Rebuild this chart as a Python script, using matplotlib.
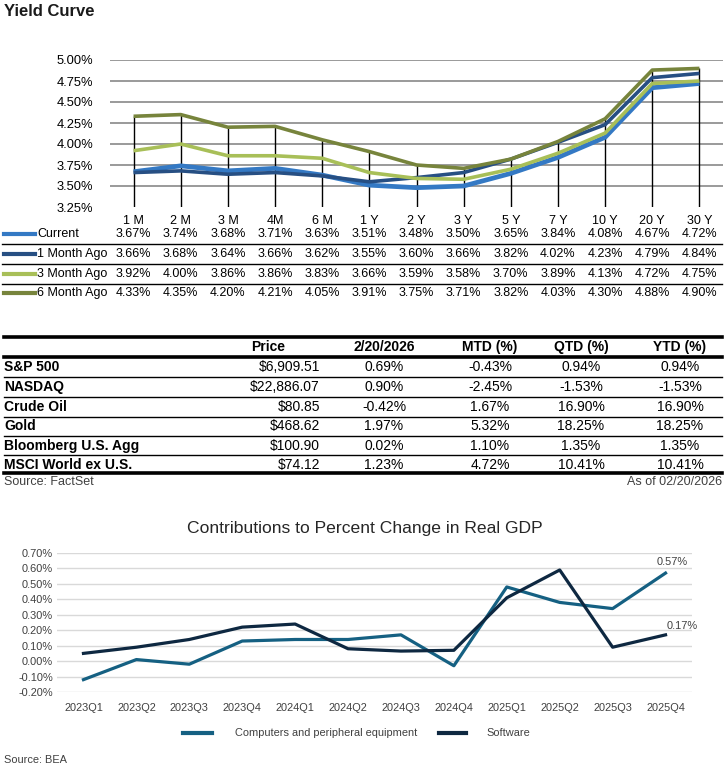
import matplotlib
matplotlib.use("Agg")
import matplotlib.pyplot as plt
from matplotlib.lines import Line2D
from matplotlib.transforms import blended_transform_factory
import numpy as np

plt.rcParams['font.family'] = ['Liberation Sans', 'DejaVu Sans']

# ---- yield curve data
tenors = ['1 M', '2 M', '3 M', '4M', '6 M', '1 Y', '2 Y', '3 Y', '5 Y', '7 Y', '10 Y', '20 Y', '30 Y']
curve_names = ['Current', '1 Month Ago', '3 Month Ago', '6 Month Ago']
current = [3.67, 3.74, 3.68, 3.71, 3.63, 3.51, 3.48, 3.50, 3.65, 3.84, 4.08, 4.67, 4.72]
month1 = [3.66, 3.68, 3.64, 3.66, 3.62, 3.55, 3.60, 3.66, 3.82, 4.02, 4.23, 4.79, 4.84]
month3 = [3.92, 4.00, 3.86, 3.86, 3.83, 3.66, 3.59, 3.58, 3.70, 3.89, 4.13, 4.72, 4.75]
month6 = [4.33, 4.35, 4.20, 4.21, 4.05, 3.91, 3.75, 3.71, 3.82, 4.03, 4.30, 4.88, 4.90]
curve_colors = ['#3479C4', '#274F83', '#A8BF58', '#77843C']
curve_widths = [3.4, 2.6, 2.6, 2.6]

# ---- market table data
mkt_header = ['Price', '2/20/2026', 'MTD (%)', 'QTD (%)', 'YTD (%)']
mkt_names = ['S&P 500', 'NASDAQ', 'Crude Oil', 'Gold', 'Bloomberg U.S. Agg', 'MSCI World ex U.S.']
mkt_price = ['$6,909.51', '$22,886.07', '$80.85', '$468.62', '$100.90', '$74.12']
mkt_day = ['0.69%', '0.90%', '-0.42%', '1.97%', '0.02%', '1.23%']
mkt_mtd = ['-0.43%', '-2.45%', '1.67%', '5.32%', '1.10%', '4.72%']
mkt_qtd = ['0.94%', '-1.53%', '16.90%', '18.25%', '1.35%', '10.41%']
mkt_ytd = ['0.94%', '-1.53%', '16.90%', '18.25%', '1.35%', '10.41%']

# ---- GDP contributions data
quarters = ['2023Q1', '2023Q2', '2023Q3', '2023Q4', '2024Q1', '2024Q2',
            '2024Q3', '2024Q4', '2025Q1', '2025Q2', '2025Q3', '2025Q4']
computers = [-0.12, 0.01, -0.02, 0.13, 0.14, 0.14, 0.17, -0.03, 0.48, 0.38, 0.34, 0.57]
software = [0.05, 0.09, 0.14, 0.22, 0.24, 0.08, 0.065, 0.07, 0.41, 0.59, 0.09, 0.17]

W, H = 727, 770
fig = plt.figure(figsize=(W / 100, H / 100), dpi=100)


def fx(px):
    return px / W


def fy(py):
    return 1 - py / H


def hline(x0, x1, py, lw, color='black'):
    fig.add_artist(Line2D([fx(x0), fx(x1)], [fy(py), fy(py)], lw=lw, color=color,
                          transform=fig.transFigure))


# ================= Yield curve =================
fig.text(fx(4), fy(12), 'Yield Curve', fontsize=12, fontweight='bold', color='#1a1a1a',
         ha='left', va='center')

ax = fig.add_axes([fx(110), fy(207), fx(723) - fx(110), fy(60) - fy(207)])
ax.set_xlim(-0.5, 12.5)
ax.set_ylim(3.25, 5.0)
for s in ax.spines.values():
    s.set_visible(False)
for v in np.arange(3.5, 5.01, 0.25):
    ax.axhline(v, color='#7f7f7f', lw=1.1, zorder=1)
x = np.arange(len(tenors))
series = [current, month1, month3, month6]
top = np.max(np.array(series), axis=0)
ax.vlines(x, 3.25, top, color='black', lw=1.0, zorder=2)
for vals, c, lw in zip(series, curve_colors, curve_widths):
    ax.plot(x, vals, color=c, lw=lw, zorder=3, solid_capstyle='butt')
ax.set_xticks(x)
ax.set_xticklabels(tenors, fontsize=9)
ax.set_yticks(np.arange(3.25, 5.01, 0.25))
ax.set_yticklabels(['%.2f%%' % v for v in np.arange(3.25, 5.01, 0.25)], fontsize=9.3)
ax.tick_params(length=0, pad=6)
ax.tick_params(axis='y', pad=12)

# data table under the yield curve
tr = blended_transform_factory(ax.transData, fig.transFigure)
row_y = [234, 254, 274, 293]
for i, (name, vals, c) in enumerate(zip(curve_names, series, curve_colors)):
    py = row_y[i]
    fig.add_artist(Line2D([fx(4), fx(35)], [fy(py), fy(py)], lw=3, color=c,
                          transform=fig.transFigure))
    fig.text(fx(37), fy(py), name, fontsize=9, ha='left', va='center')
    for j, v in enumerate(vals):
        ax.text(j, fy(py), '%.2f%%' % v, transform=tr, fontsize=9, ha='center',
                va='center', clip_on=False)
for py in [244, 264, 284]:
    hline(2, 722, py, 1.0)

# ================= Market table =================
hline(4, 722, 337, 2.6)
hline(4, 722, 357, 2.6)
hline(4, 722, 473, 2.6)
for py in [377, 397, 417, 436, 455]:
    hline(4, 722, py, 1.0)

col_x = [268, 384, 490, 581, 680]
for cx, h in zip(col_x, mkt_header):
    fig.text(fx(cx), fy(347), h, fontsize=10, fontweight='bold', ha='center', va='center')
mkt_rows_y = [367, 387, 407, 426, 446, 465]
for i, py in enumerate(mkt_rows_y):
    fig.text(fx(4), fy(py), mkt_names[i], fontsize=10, fontweight='bold', ha='left', va='center')
    fig.text(fx(320), fy(py), mkt_price[i], fontsize=10, ha='right', va='center')
    for cx, col in zip(col_x[1:], [mkt_day, mkt_mtd, mkt_qtd, mkt_ytd]):
        fig.text(fx(cx), fy(py), col[i], fontsize=10, ha='center', va='center')
fig.text(fx(4), fy(482), 'Source: FactSet', fontsize=9, color='#404040', ha='left', va='center')
fig.text(fx(722), fy(482), 'As of 02/20/2026', fontsize=9, color='#404040', ha='right', va='center')

# ================= GDP chart =================
fig.text(fx(365), fy(528), 'Contributions to Percent Change in Real GDP', fontsize=12.6,
         color='#262626', ha='center', va='center')

bx = fig.add_axes([fx(57), fy(692), fx(692) - fx(57), fy(553) - fy(692)])
bx.set_xlim(-0.5, 11.5)
bx.set_ylim(-0.2, 0.7)
for s in bx.spines.values():
    s.set_visible(False)
yt = np.round(np.arange(-0.2, 0.71, 0.1), 2)
for v in yt:
    bx.axhline(v, color='#d9d9d9', lw=1.0, zorder=1)
q = np.arange(len(quarters))
bx.plot(q, computers, color='#156082', lw=2.3, zorder=3, label='Computers and peripheral equipment')
bx.plot(q, software, color='#0E2841', lw=2.3, zorder=3, label='Software')
bx.set_xticks(q)
bx.set_xticklabels(quarters, fontsize=7.9, color='#404040')
bx.set_yticks(yt)
bx.set_yticklabels(['%.2f%%' % v for v in yt], fontsize=7.9, color='#404040')
bx.tick_params(length=0, pad=8)
bx.tick_params(axis='y', pad=3)
bx.annotate('%.2f%%' % computers[-1], (q[-1], computers[-1]), xytext=(7, 11),
            textcoords='offset pixels', fontsize=7.9, color='#404040', ha='center', va='center')
bx.annotate('%.2f%%' % software[-1], (q[-1], software[-1]), xytext=(17, 9),
            textcoords='offset pixels', fontsize=7.9, color='#404040', ha='center', va='center')

# legend
fig.add_artist(Line2D([fx(183), fx(212)], [fy(733), fy(733)], lw=3, color='#156082',
                      transform=fig.transFigure))
fig.text(fx(235), fy(733), 'Computers and peripheral equipment', fontsize=7.9, color='#404040',
         ha='left', va='center')
fig.add_artist(Line2D([fx(439), fx(466)], [fy(733), fy(733)], lw=3, color='#0E2841',
                      transform=fig.transFigure))
fig.text(fx(486), fy(733), 'Software', fontsize=7.9, color='#404040', ha='left', va='center')

fig.text(fx(4), fy(760), 'Source: BEA', fontsize=7.9, color='#404040', ha='left', va='center')

fig.savefig('out.png', dpi=100)
